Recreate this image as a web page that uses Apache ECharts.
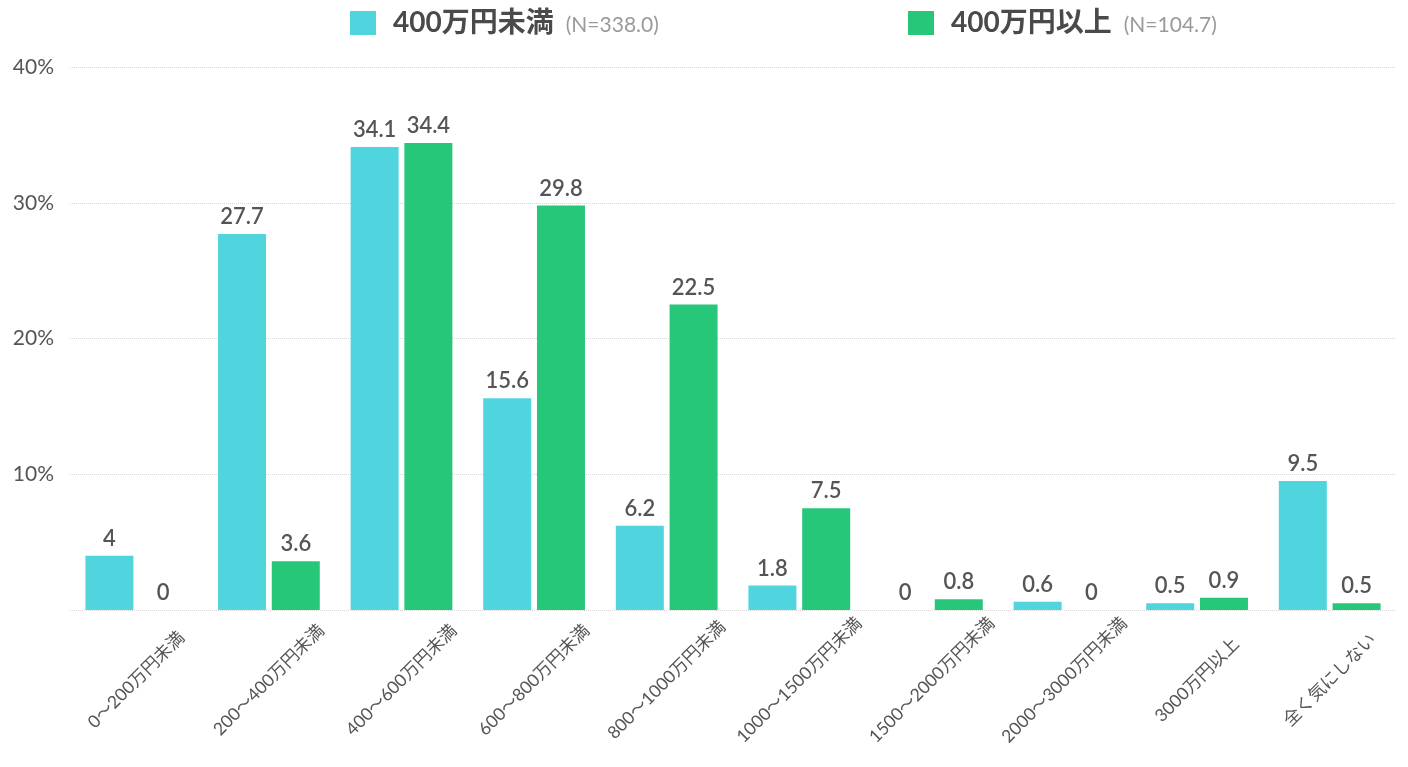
<!DOCTYPE html>
<html><head><meta charset="utf-8">
<script src="https://cdn.jsdelivr.net/npm/echarts@6/dist/echarts.min.js"></script>
<style>html,body{margin:0;padding:0;background:#fff}#c{width:1408px;height:767px}</style>
</head><body><div id="c"></div>
<script>
const categories = ['0～200万円未満','200～400万円未満','400～600万円未満','600～800万円未満','800～1000万円未満','1000～1500万円未満','1500～2000万円未満','2000～3000万円未満','3000万円以上','全く気にしない'];
const seriesNames = ['400万円未満','400万円以上'];
const seriesN = ['(N=338.0)','(N=104.7)'];
const below400 = [4, 27.7, 34.1, 15.6, 6.2, 1.8, 0, 0.6, 0.5, 9.5];
const above400 = [0, 3.6, 34.4, 29.8, 22.5, 7.5, 0.8, 0, 0.9, 0.5];
const yTicks = [0, 10, 20, 30, 40];

const FONT = 'Lato, "Noto Sans CJK JP", sans-serif';
const colors = ['#50D5DE', '#27C77A'];
const XFS = 17.5;

const chart = echarts.init(document.getElementById('c'));
function legendFor(i, left) {
  return {
    data: [seriesNames[i]], left: left, top: 4,
    itemWidth: 26, itemHeight: 24, icon: 'rect',
    formatter: n => '{a|' + n + '}{b|' + seriesN[i] + '}',
    textStyle: { fontFamily: FONT, rich: {
      a: { fontSize: 28, fontWeight: 'bold', color: '#4a4a4a', padding: [0, 12, 0, 12], fontFamily: FONT },
      b: { fontSize: 21, color: '#9a9a9a', fontFamily: FONT, padding: [4, 0, 0, 0] }
    }}
  };
}
const labelCfg = { show: true, position: 'top', distance: 6, fontSize: 22, fontWeight: 600, color: '#555', fontFamily: FONT };
chart.setOption({
  animation: false,
  legend: [legendFor(0, 345), legendFor(1, 903)],
  grid: { left: 70, right: 12, top: 67, bottom: 157, containLabel: false, outerBoundsMode: 'none' },
  xAxis: {
    type: 'category', data: categories,
    axisLine: { show: false }, axisTick: { show: false },
    axisLabel: { rotate: 45, interval: 0, fontSize: XFS, color: '#555', fontFamily: FONT, margin: 70,
      align: 'center', verticalAlign: 'middle' }
  },
  yAxis: {
    type: 'value', min: yTicks[0], max: yTicks[yTicks.length - 1], interval: 10,
    axisLine: { show: false }, axisTick: { show: false },
    axisLabel: { formatter: v => v === 0 ? '' : v + '%', fontSize: 21, color: '#555', fontFamily: FONT, margin: 16 },
    splitLine: { lineStyle: { type: 'dotted', color: '#d8d8d8' } }
  },
  series: [
    { name: seriesNames[0], type: 'bar', data: below400, barWidth: 48, barGap: '12%', itemStyle: { color: colors[0] }, label: labelCfg },
    { name: seriesNames[1], type: 'bar', data: above400, barWidth: 48, barGap: '12%', itemStyle: { color: colors[1] }, label: labelCfg }
  ]
});
</script></body></html>
